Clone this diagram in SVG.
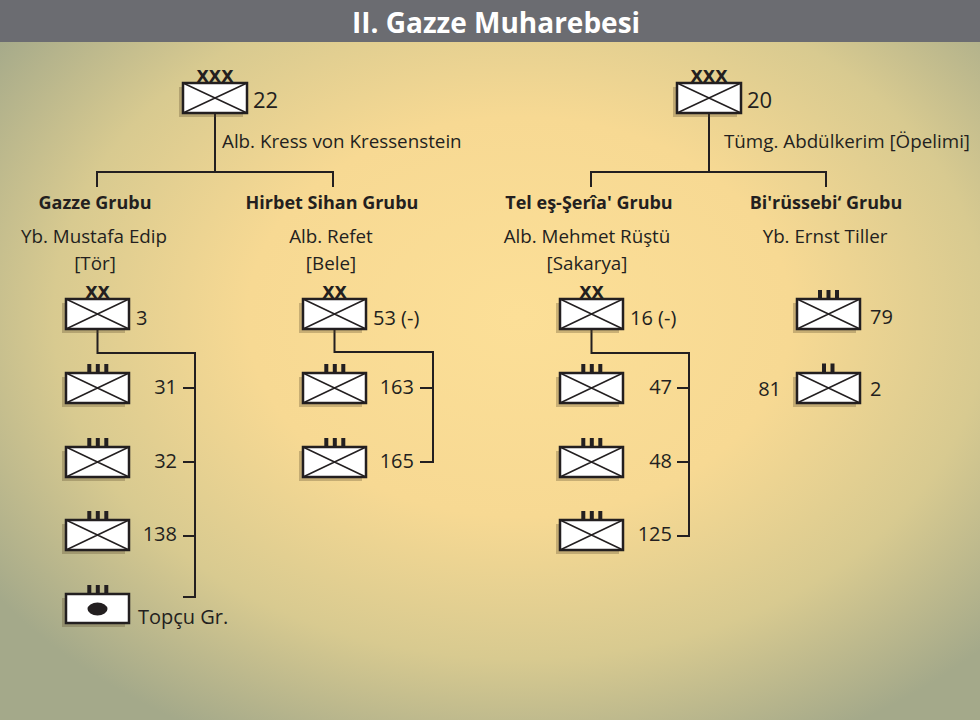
<svg xmlns="http://www.w3.org/2000/svg" width="980" height="720" viewBox="0 0 980 720">
<defs>
<radialGradient id="bg" cx="0.53" cy="0.44" r="0.66">
<stop offset="0" stop-color="#fcdf97"/>
<stop offset="0.42" stop-color="#f7d993"/>
<stop offset="0.72" stop-color="#d8ca90"/>
<stop offset="1" stop-color="#a4a98a"/>
</radialGradient>
<g id="unit">
<rect x="-4" y="4" width="63" height="30" fill="#5a4a2a" opacity="0.3"/>
<rect x="0" y="0" width="63" height="30" fill="#fff" stroke="#231f20" stroke-width="2.5"/>
<path d="M0,0 L63,30 M63,0 L0,30" stroke="#231f20" stroke-width="1.5" fill="none"/>
</g>
<g id="art">
<rect x="-4" y="4" width="63" height="29" fill="#5a4a2a" opacity="0.3"/>
<rect x="0" y="0" width="63" height="29" fill="#fff" stroke="#231f20" stroke-width="2.5"/>
<ellipse cx="31.5" cy="15" rx="10" ry="6.5" fill="#231f20"/>
</g>
<g id="iii">
<rect x="0" y="0" width="4" height="9" fill="#231f20"/>
<rect x="8.5" y="0" width="4" height="9" fill="#231f20"/>
<rect x="17" y="0" width="4" height="9" fill="#231f20"/>
</g>
<g id="ii">
<rect x="0" y="0" width="4" height="9.5" fill="#231f20"/>
<rect x="8.5" y="0" width="4" height="9.5" fill="#231f20"/>
</g>
</defs>
<style>
text{font-family:"Open Sans","Noto Sans","Liberation Sans",sans-serif;fill:#231f20}
.t{font-size:18.8px}
.b{font-size:18px;font-weight:700}
.n{font-size:20px}
.m{text-anchor:middle}
.e{text-anchor:end}
.x{font-family:"DejaVu Sans",sans-serif;font-size:16px;font-weight:700;text-anchor:middle}
.title{font-size:28px;font-weight:700;fill:#fff;text-anchor:middle}
.c{stroke:#231f20;stroke-width:2;fill:none}
</style>
<rect x="0" y="0" width="980" height="720" fill="url(#bg)"/>
<rect x="0" y="0" width="980" height="42" fill="#6b6c71"/>
<text class="title" x="496" y="33">II. Gazze Muharebesi</text>

<g id="connectors">
<path class="c" d="M215,113 V172 M97,187 V172 H333 V187"/>
<path class="c" d="M709,113 V172 M591,187 V172 H826 V187"/>
<path class="c" d="M97.5,329 V353 H195 V597 H183 M183,388 H195 M183,462 H195 M183,536 H195"/>
<path class="c" d="M334.5,329 V352 H433 V462 H420 M420,388 H433"/>
<path class="c" d="M591.5,329 V353 H689 V536 H677 M677,388 H689 M677,462 H689"/>
</g>

<g id="corps22">
<rect x="179" y="87" width="64" height="30" fill="#5a4a2a" opacity="0.3"/>
<rect x="183" y="83" width="64" height="30" fill="#fff" stroke="#231f20" stroke-width="2.5"/>
<path d="M183,83 L247,113 M247,83 L183,113" stroke="#231f20" stroke-width="1.5"/>
<text class="x" x="215" y="82">XXX</text>
<text class="n" x="253" y="108" style="font-size:22px">22</text>
<text class="t" x="222" y="148">Alb. Kress von Kressenstein</text>
</g>

<g id="corps20">
<rect x="673" y="87" width="64" height="30" fill="#5a4a2a" opacity="0.3"/>
<rect x="677" y="83" width="64" height="30" fill="#fff" stroke="#231f20" stroke-width="2.5"/>
<path d="M677,83 L741,113 M741,83 L677,113" stroke="#231f20" stroke-width="1.5"/>
<text class="x" x="709" y="82">XXX</text>
<text class="n" x="747" y="108" style="font-size:22px">20</text>
<text class="t" x="724" y="148">Tümg. Abdülkerim [Öpelimi]</text>
</g>

<g id="gazze-grubu">
<text class="b m" x="95" y="209">Gazze Grubu</text>
<text class="t m" x="94" y="243">Yb. Mustafa Edip</text>
<text class="t m" x="95" y="270">[Tör]</text>
</g>
<g id="hirbet-sihan-grubu">
<text class="b m" x="332" y="209">Hirbet Sihan Grubu</text>
<text class="t m" x="331" y="243">Alb. Refet</text>
<text class="t m" x="331" y="270">[Bele]</text>
</g>
<g id="tel-esseria-grubu">
<text class="b m" x="589" y="209">Tel eş-Şerîa' Grubu</text>
<text class="t m" x="587" y="243">Alb. Mehmet Rüştü</text>
<text class="t m" x="587" y="270">[Sakarya]</text>
</g>
<g id="birussebi-grubu">
<text class="b m" x="826" y="209">Bi'rüssebi‘ Grubu</text>
<text class="t m" x="825" y="243">Yb. Ernst Tiller</text>
</g>

<g id="div3">
<use href="#unit" x="66" y="299"/>
<text class="x" x="97.5" y="298">XX</text>
<text class="n" x="136" y="325">3</text>
</g>
<g id="reg31"><use href="#iii" x="87.3" y="364"/><use href="#unit" x="66" y="373"/><text class="n e" x="177" y="394">31</text></g>
<g id="reg32"><use href="#iii" x="87.3" y="438"/><use href="#unit" x="66" y="447"/><text class="n e" x="177" y="468">32</text></g>
<g id="reg138"><use href="#iii" x="87.3" y="511"/><use href="#unit" x="66" y="520"/><text class="n e" x="177" y="541">138</text></g>
<g id="topcu"><use href="#iii" x="87.3" y="585"/><use href="#art" x="66" y="594"/><text class="n" x="138" y="624">Topçu Gr.</text></g>

<g id="div53">
<use href="#unit" x="303" y="299"/>
<text class="x" x="334.5" y="298">XX</text>
<text class="n" x="373" y="325">53 (-)</text>
</g>
<g id="reg163"><use href="#iii" x="324.3" y="364"/><use href="#unit" x="303" y="373"/><text class="n e" x="414" y="394">163</text></g>
<g id="reg165"><use href="#iii" x="324.3" y="438"/><use href="#unit" x="303" y="447"/><text class="n e" x="414" y="468">165</text></g>

<g id="div16">
<use href="#unit" x="560" y="299"/>
<text class="x" x="591.5" y="298">XX</text>
<text class="n" x="630" y="325">16 (-)</text>
</g>
<g id="reg47"><use href="#iii" x="581.3" y="364"/><use href="#unit" x="560" y="373"/><text class="n e" x="672" y="394">47</text></g>
<g id="reg48"><use href="#iii" x="581.3" y="438"/><use href="#unit" x="560" y="447"/><text class="n e" x="672" y="468">48</text></g>
<g id="reg125"><use href="#iii" x="581.3" y="511"/><use href="#unit" x="560" y="520"/><text class="n e" x="672" y="541">125</text></g>

<g id="reg79"><use href="#iii" x="818" y="290"/><use href="#unit" x="797" y="299"/><text class="n" x="870" y="324">79</text></g>
<g id="bat2"><use href="#ii" x="822" y="363.5"/><use href="#unit" x="797" y="373"/><text class="n" x="870" y="396">2</text><text class="n e" x="781" y="396">81</text></g>
</svg>
